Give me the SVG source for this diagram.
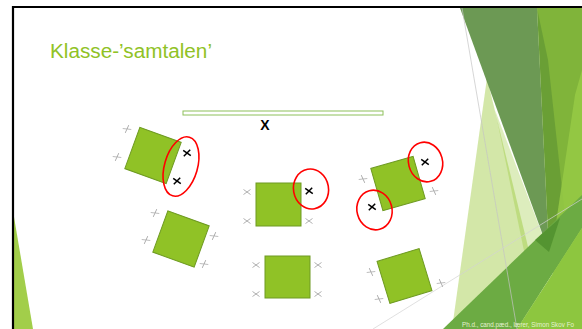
<svg xmlns="http://www.w3.org/2000/svg" width="582" height="329" viewBox="0 0 582 329">
<style>
.sq{fill:#90C226;stroke:#6E9A22;stroke-width:1}
.gx{stroke:#A8A8A8;stroke-width:0.9;fill:none}
.bx{stroke:#000;stroke-width:1.5;fill:none}
.ring{fill:none;stroke:#FF0000;stroke-width:1.6}
.title{font-family:"Liberation Sans",Arial,sans-serif;font-size:20px;fill:#90C226}
.lbl{font-family:"Liberation Sans",Arial,sans-serif;font-size:14px;font-weight:bold;fill:#000}
.foot{font-family:"Liberation Sans",Arial,sans-serif;font-size:6.3px;fill:#E4F1D2}
</style>
<defs>
<g id="gxm"><path class="gx" d="M-3.5,-2.5 L3.5,2.5 M-3.5,2.5 L3.5,-2.5"/></g>
<g id="bxm"><path class="bx" d="M-3.8,-2.6 L3.8,2.6 M-3.2,3.2 L3.2,-3.2"/></g>
</defs>
<rect x="0" y="0" width="582" height="329" fill="#FFFFFF"/>
<g id="background">
<polygon points="14,217 14,329 33,329" fill="#A2CE4A"/>
<polygon points="487,78 548,329 452,329" fill="#90C226" fill-opacity="0.4"/>
<polygon points="495,110 549,252 530,280" fill="#90C226" fill-opacity="0.3"/>
<polygon points="460,8 537,8 549,252" fill="#5C8E41" fill-opacity="0.9"/>
<polygon points="537,8 582,8 582,200 549,252" fill="#80B43A"/>
<polygon points="537,8 549,252 566,225 548,60" fill="#4F8430" fill-opacity="0.45"/>
<polygon points="575,95 582,70 582,329 555,329 552,250" fill="#96CA45" fill-opacity="0.85"/>
<polygon points="443,329 582,195 582,228 517,329" fill="#6CAB43"/>
<polygon points="517,329 582,228 582,329" fill="#8DC63F"/>
<polygon points="535,240 560,218 549,252" fill="#4A8A2A" fill-opacity="0.7"/>
<line x1="462" y1="8" x2="517" y2="329" stroke="#C4C4C4" stroke-width="0.7"/>
<line x1="373" y1="329" x2="582" y2="199" stroke="#D2D2D2" stroke-width="0.7"/>
<text class="foot" x="462" y="327">Ph.d., cand.pæd., lærer, Simon Skov Fo</text>
</g>
<path d="M582,7 L13,7 L13,329" fill="none" stroke="#000" stroke-width="2.2"/>
<text class="title" x="50" y="58" textLength="162" lengthAdjust="spacingAndGlyphs">Klasse-’samtalen’</text>
<g id="teacher">
<rect x="183" y="111" width="200" height="4" fill="#FFFFFF" stroke="#8DC05A" stroke-width="1"/>
<text class="lbl" x="265" y="130" text-anchor="middle">X</text>
</g>
<g id="group1">
<rect class="sq" x="-22" y="-22" width="44" height="44" transform="translate(153,155.5) rotate(20)"/>
<use href="#gxm" transform="translate(127,129) rotate(-30)"/>
<use href="#gxm" transform="translate(117,157) rotate(-30)"/>
<use href="#bxm" transform="translate(187,153)"/>
<use href="#bxm" transform="translate(177,181)"/>
<ellipse class="ring" cx="181" cy="166.5" rx="16.5" ry="30.5" transform="rotate(16 181 166.5)"/>
</g>
<g id="group2">
<rect class="sq" x="-22" y="-22" width="44" height="44" transform="translate(181,239) rotate(20)"/>
<use href="#gxm" transform="translate(155,213) rotate(-30)"/>
<use href="#gxm" transform="translate(146,240) rotate(-30)"/>
<use href="#gxm" transform="translate(214,236) rotate(-30)"/>
<use href="#gxm" transform="translate(204,264) rotate(-30)"/>
</g>
<g id="group3">
<rect class="sq" x="256" y="183" width="45" height="43"/>
<use href="#gxm" transform="translate(247,192)"/>
<use href="#gxm" transform="translate(247,221)"/>
<use href="#gxm" transform="translate(309,221)"/>
<use href="#bxm" transform="translate(309,191)"/>
<ellipse class="ring" cx="311" cy="189" rx="17.5" ry="20" transform="rotate(-10 311 189)"/>
</g>
<g id="group4">
<rect class="sq" x="265" y="256" width="45" height="42"/>
<use href="#gxm" transform="translate(256,265)"/>
<use href="#gxm" transform="translate(256,294)"/>
<use href="#gxm" transform="translate(318,265)"/>
<use href="#gxm" transform="translate(318,294)"/>
</g>
<g id="group5">
<rect class="sq" x="-22" y="-22" width="44" height="44" transform="translate(398,183.5) rotate(-16)"/>
<use href="#gxm" transform="translate(363,179) rotate(30)"/>
<use href="#gxm" transform="translate(434,191) rotate(30)"/>
<use href="#bxm" transform="translate(425,162)"/>
<use href="#bxm" transform="translate(372,207)"/>
<ellipse class="ring" cx="425.5" cy="162" rx="17" ry="20" transform="rotate(-15 425.5 162)"/>
<ellipse class="ring" cx="374.5" cy="210" rx="17.5" ry="20" transform="rotate(-15 374.5 210)"/>
</g>
<g id="group6">
<rect class="sq" x="-22" y="-22" width="44" height="44" transform="translate(404.5,276) rotate(-17)"/>
<use href="#gxm" transform="translate(371,272) rotate(30)"/>
<use href="#gxm" transform="translate(379,299) rotate(30)"/>
<use href="#gxm" transform="translate(441,283) rotate(30)"/>
</g>
<g id="connectors"></g>
</svg>
